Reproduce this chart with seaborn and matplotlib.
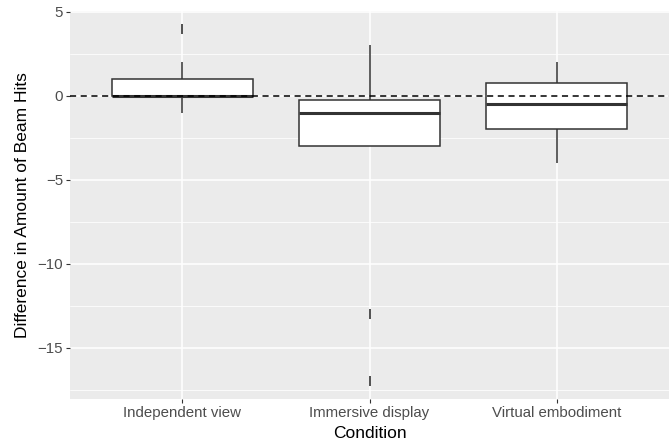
import numpy as np
import pandas as pd
import seaborn as sns
import matplotlib
matplotlib.use("Agg")
import matplotlib.pyplot as plt
from matplotlib.ticker import MultipleLocator

# Per-participant difference in beam hits for each condition
conditions = ["Independent view", "Immersive display", "Virtual embodiment"]
independent_view = [-1, 0, 0, 0, 0, 0, 1, 1, 2, 4]
immersive_display = [-17, -13, -3, -3, -1, -1, -1, 0, 1, 3]
virtual_embodiment = [-4, -3, -2, -2, -1, 0, 0, 1, 2, 2]

df = pd.DataFrame({
    "Condition": np.repeat(conditions, [len(independent_view), len(immersive_display), len(virtual_embodiment)]),
    "Difference": independent_view + immersive_display + virtual_embodiment,
})

sns.set_theme(style="darkgrid")
plt.rcParams["font.family"] = ["Liberation Sans", "DejaVu Sans"]

fig = plt.figure(figsize=(6.69, 4.45), dpi=100)
ax = fig.add_axes([70 / 669, 1 - 399 / 445, 599 / 669, (399 - 11) / 445])
ax.set_facecolor("#EBEBEB")

ink = "#333333"
sns.boxplot(
    data=df, x="Condition", y="Difference", order=conditions, ax=ax,
    width=0.75, color="white", linewidth=1.1, whis=1.5,
    boxprops=dict(facecolor="white", edgecolor=ink, linewidth=1.1),
    medianprops=dict(color=ink, linewidth=2.2),
    whiskerprops=dict(color=ink, linewidth=1.1),
    capprops=dict(linewidth=0),
    flierprops=dict(marker="|", markersize=7, markeredgewidth=1.2,
                    markeredgecolor=ink, color=ink),
    showcaps=False,
)

ax.axhline(0, color="black", linestyle=(0, (4, 3)), linewidth=1.1, zorder=5)

ax.set_xlim(-0.6, 2.6)
ax.set_ylim(-18.05, 5.05)
ax.yaxis.set_major_locator(MultipleLocator(5))
ax.yaxis.set_minor_locator(MultipleLocator(2.5))
ax.set_yticks([5, 0, -5, -10, -15])
ax.set_yticklabels(["5", "0", "\u22125", "\u221210", "\u221215"])

ax.grid(which="major", color="white", linewidth=1.1)
ax.grid(which="minor", axis="y", color="white", linewidth=0.55)
ax.set_axisbelow(True)
for s in ax.spines.values():
    s.set_visible(False)

ax.tick_params(axis="both", which="major", length=3, width=0.8, color=ink,
               left=True, bottom=True,
               labelsize=10.8, labelcolor="#4D4D4D", pad=2)
ax.tick_params(axis="y", which="minor", length=0, left=False)
ax.set_xlabel("Condition", fontsize=12.5, color="black", labelpad=4)
ax.set_ylabel("Difference in Amount of Beam Hits", fontsize=12.5, color="black", labelpad=5)

fig.savefig("out.png", dpi=100, facecolor="white")
